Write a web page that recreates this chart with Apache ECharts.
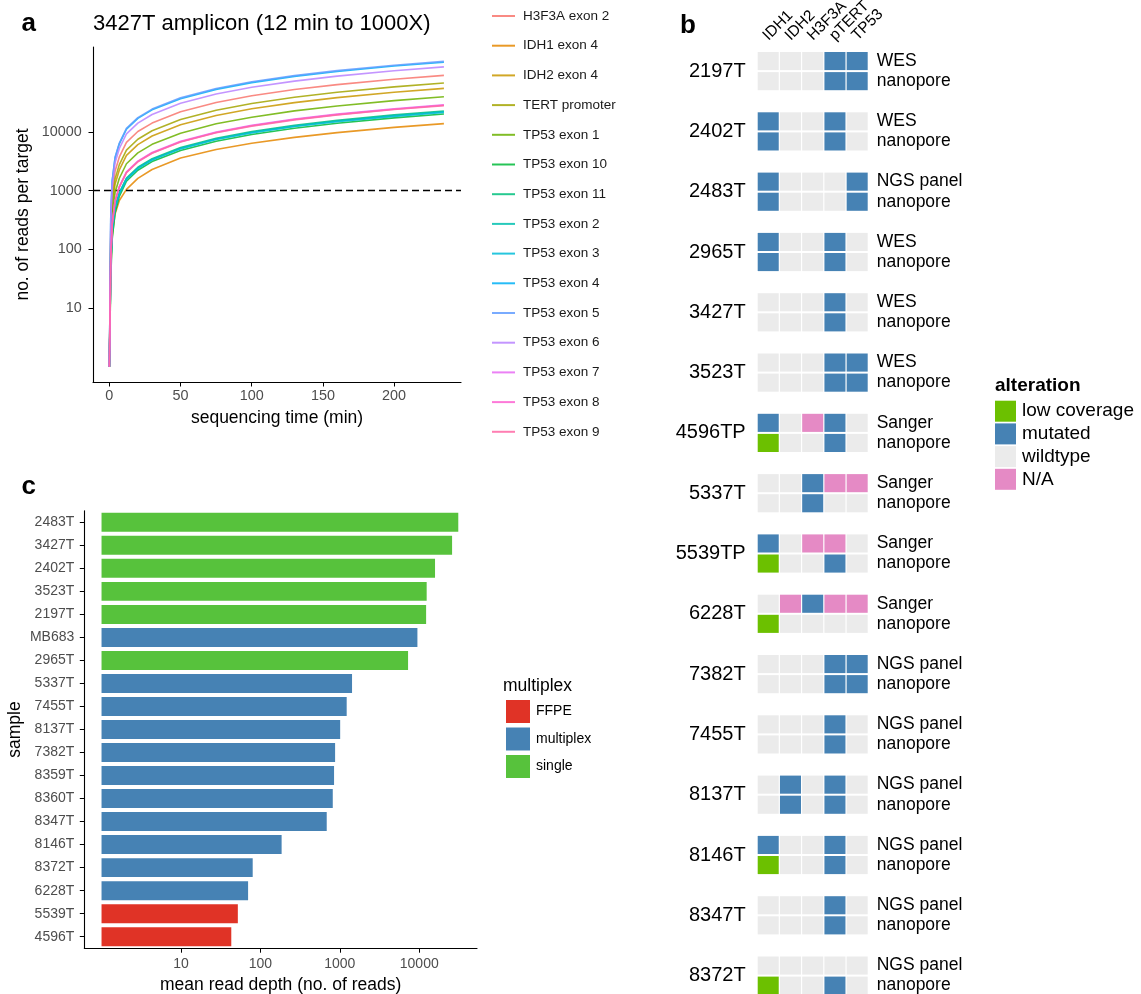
<!DOCTYPE html>
<html><head><meta charset="utf-8">
<script src="https://cdn.jsdelivr.net/npm/echarts@6/dist/echarts.min.js"></script>
<style>html,body{margin:0;padding:0;background:#fff}#chart{width:1141px;height:994px}</style>
</head><body><div id="chart"></div>
<script>
const FONT = "'Liberation Sans', Arial, Helvetica, sans-serif";

// ---------- Panel a data ----------
const timeMin = [0, 1, 2, 4, 7, 12, 20, 30, 50, 75, 100, 130, 160, 200, 235];
const targetNames = ['H3F3A exon 2','IDH1 exon 4','IDH2 exon 4','TERT promoter','TP53 exon 1','TP53 exon 10','TP53 exon 11','TP53 exon 2','TP53 exon 3','TP53 exon 4','TP53 exon 5','TP53 exon 6','TP53 exon 7','TP53 exon 8','TP53 exon 9'];
const targetColors = ['#F8766D','#E58700','#C99800','#A3A500','#6BB100','#00BA38','#00BF7D','#00C0AF','#00BCD8','#00B0F6','#619CFF','#B983FF','#E76BF3','#FD61D1','#FF67A4'];
const readsH3F3Aexon2 = [1, 230, 870, 2150, 3760, 6660, 10200, 14200, 22100, 31800, 41400, 52900, 64300, 79400, 92500];
const readsIDH1exon4  = [1, 45, 170, 400, 680, 1050, 1620, 2300, 3600, 5050, 6450, 8100, 9750, 12000, 13900];
const readsIDH2exon4  = [1, 140, 520, 1290, 2260, 4000, 6100, 8550, 13300, 19100, 24900, 31700, 38600, 47600, 55500];
const readsTERTprom   = [1, 170, 640, 1590, 2780, 4920, 7520, 10500, 16300, 23500, 30600, 39100, 47500, 58700, 68400];
const readsTP53exon1  = [1, 100, 376, 930, 1630, 2880, 4400, 6160, 9560, 13800, 17900, 22900, 27800, 34300, 40000];
const readsTP53exon10 = [1, 35, 150, 420, 800, 1450, 2230, 3130, 4850, 6980, 9090, 11600, 14100, 17400, 20300];
const readsTP53exon11 = [1, 57, 214, 529, 928, 1640, 2510, 3510, 5450, 7840, 10200, 13000, 15800, 19600, 22800];
const readsTP53exon2  = [1, 55, 208, 513, 900, 1590, 2430, 3400, 5280, 7600, 9900, 12600, 15400, 19000, 22100];
const readsTP53exon3  = [1, 54, 203, 501, 879, 1560, 2380, 3330, 5160, 7430, 9680, 12400, 15000, 18500, 21600];
const readsTP53exon4  = [1, 390, 1460, 3600, 6300, 11200, 17050, 23900, 37000, 53300, 69400, 88700, 107700, 133000, 155000];
const readsTP53exon5  = [1, 400, 1500, 3700, 6500, 11500, 17600, 24600, 38200, 55000, 71700, 91500, 111200, 137300, 160000];
const readsTP53exon6  = [1, 320, 1210, 2990, 5250, 9290, 14200, 19900, 30800, 44400, 57800, 73800, 89700, 110700, 129000];
const readsTP53exon7  = [1, 73, 273, 673, 1180, 2090, 3190, 4470, 6930, 9980, 13000, 16600, 20200, 24900, 29000];
const readsTP53exon8  = [1, 71, 268, 661, 1160, 2050, 3140, 4390, 6810, 9800, 12800, 16300, 19800, 24500, 28500];
const readsTP53exon9  = [1, 70, 265, 654, 1150, 2030, 3100, 4340, 6740, 9700, 12600, 16100, 19600, 24200, 28200];
const readsByTarget = [readsH3F3Aexon2, readsIDH1exon4, readsIDH2exon4, readsTERTprom, readsTP53exon1, readsTP53exon10, readsTP53exon11, readsTP53exon2, readsTP53exon3, readsTP53exon4, readsTP53exon5, readsTP53exon6, readsTP53exon7, readsTP53exon8, readsTP53exon9];
const yTicksA = [10, 100, 1000, 10000];
const xTicksA = [0, 50, 100, 150, 200];
const thresholdReads = 1000;

// ---------- Panel b data ----------
const genes = ['IDH1', 'IDH2', 'H3F3A', 'pTERT', 'TP53'];
const samplesB = ['2197T','2402T','2483T','2965T','3427T','3523T','4596TP','5337T','5539TP','6228T','7382T','7455T','8137T','8146T','8347T','8372T'];
const validationMethod = ['WES','WES','NGS panel','WES','WES','WES','Sanger','Sanger','Sanger','Sanger','NGS panel','NGS panel','NGS panel','NGS panel','NGS panel','NGS panel'];
// codes per gene (IDH1, IDH2, H3F3A, pTERT, TP53): L low coverage, M mutated, W wildtype, N N/A
const callsValidation = ['WWWMM','MWWMW','MWWWM','MWWMW','WWWMW','WWWMM','MWNMW','WWMNN','MWNNW','WNMNN','WWWMM','WWWMW','WMWMW','MWWMW','WWWMW','WWWWW'];
const callsNanopore   = ['WWWMM','MWWMW','MWWWM','MWWMW','WWWMW','WWWMM','LWWMW','WWMWW','LWWMW','LWWWW','WWWMM','WWWMW','WMWMW','LWWMW','WWWMW','LWWMW'];
const alterationNames = ['low coverage', 'mutated', 'wildtype', 'N/A'];
const alterationCodes = ['L', 'M', 'W', 'N'];
const alterationColors = ['#6CC000', '#4682B4', '#EBEBEB', '#E58AC5'];

// ---------- Panel c data ----------
const samplesC = ['2483T','3427T','2402T','3523T','2197T','MB683','2965T','5337T','7455T','8137T','7382T','8359T','8360T','8347T','8146T','8372T','6228T','5539T','4596T'];
const meanDepth = [31000, 25900, 15800, 12400, 12200, 9480, 7230, 1425, 1220, 1010, 872, 846, 815, 684, 185, 80, 70, 52, 43];
const multiplexGroup = ['single','single','single','single','single','multiplex','single','multiplex','multiplex','multiplex','multiplex','multiplex','multiplex','multiplex','multiplex','multiplex','multiplex','FFPE','FFPE'];
const groupNames = ['FFPE', 'multiplex', 'single'];
const groupColors = ['#E03326', '#4682B4', '#57C23C'];
const xTicksC = [10, 100, 1000, 10000];

// ---------- build ----------
const lg = Math.log10;
const slotKeys = [];
samplesB.forEach((s, k) => {
  slotKeys.push(s + '|' + validationMethod[k]);
  slotKeys.push(s + '|nanopore');
  if (k < samplesB.length - 1) slotKeys.push(s + '|');
});

const axisLineStyle = { show: true, onZero: false, lineStyle: { color: '#000', width: 1.1 } };
const tickLbl = { color: '#4D4D4D', fontSize: 14.4, fontFamily: FONT };
const nameStyle = { color: '#000', fontSize: 17.5, fontFamily: FONT };

const lineSeries = targetNames.map((name, i) => ({
  name, type: 'line', xAxisIndex: 0, yAxisIndex: 0,
  data: timeMin.map((t, j) => [t, lg(readsByTarget[i][j])]),
  symbol: 'none', showSymbol: false, smooth: false,
  lineStyle: { width: 1.6, color: targetColors[i], opacity: 0.85 },
  itemStyle: { color: targetColors[i] },
  z: 2 + i,
  markLine: i === targetNames.length - 1 ? {
    silent: true, symbol: ['none', 'none'], label: { show: false },
    lineStyle: { color: '#000', type: [7, 4], width: 1.3, opacity: 1 },
    data: [{ yAxis: lg(thresholdReads) }]
  } : undefined
}));

function renderCell(params, api) {
  const c = api.coord([api.value(0), api.value(1)]);
  const s = api.size([1, 1]);
  const w = s[0] - 1.2, h = s[1] - 2;
  return { type: 'rect', shape: { x: c[0] - w / 2, y: c[1] - h / 2, width: w, height: h }, style: { fill: api.visual('color') } };
}
const cellSeries = alterationNames.map((name, a) => {
  const data = [];
  samplesB.forEach((s, k) => {
    for (let g = 0; g < genes.length; g++) {
      if (callsValidation[k][g] === alterationCodes[a]) data.push([g, 3 * k]);
      if (callsNanopore[k][g] === alterationCodes[a]) data.push([g, 3 * k + 1]);
    }
  });
  return { name, type: 'custom', xAxisIndex: 2, yAxisIndex: 2, renderItem: renderCell,
    encode: { x: 0, y: 1 }, itemStyle: { color: alterationColors[a] }, data, silent: true };
});

const barSeries = groupNames.map((g, gi) => ({
  name: g, type: 'bar', xAxisIndex: 1, yAxisIndex: 1,
  data: samplesC.map((s, i) => multiplexGroup[i] === g ? lg(meanDepth[i]) : '-'),
  barWidth: '82.5%', barGap: '-100%',
  itemStyle: { color: groupColors[gi] }, silent: true
}));

const option = {
  animation: false,
  backgroundColor: '#fff',
  textStyle: { fontFamily: FONT },
  title: [
    { text: 'a', left: 21.5, top: 10.9, padding: 0, textStyle: { fontSize: 26, fontWeight: 'bold', color: '#000', fontFamily: FONT } },
    { text: 'b', left: 680, top: 12.5, padding: 0, textStyle: { fontSize: 26, fontWeight: 'bold', color: '#000', fontFamily: FONT } },
    { text: 'c', left: 21.5, top: 474.2, padding: 0, textStyle: { fontSize: 26, fontWeight: 'bold', color: '#000', fontFamily: FONT } },
    { text: '3427T amplicon (12 min to 1000X)', left: 93, top: 13.2, padding: 0, textStyle: { fontSize: 22, fontWeight: 'normal', color: '#000', fontFamily: FONT } },
    { text: 'alteration', left: 995, top: 376.5, padding: 0, textStyle: { fontSize: 19, fontWeight: 'bold', color: '#000', fontFamily: FONT } },
    { text: 'multiplex', left: 503, top: 677, padding: 0, textStyle: { fontSize: 17.5, fontWeight: 'normal', color: '#000', fontFamily: FONT } }
  ],
  legend: [
    { data: targetNames, orient: 'vertical', left: 491, top: 9, padding: 0, itemWidth: 23, itemHeight: 14, itemGap: 15.7,
      lineStyle: { width: 2 }, itemStyle: { opacity: 0 }, selectedMode: false,
      textStyle: { fontSize: 13.5, color: '#1A1A1A', fontFamily: FONT, padding: [0, 0, 0, 3] } },
    { data: alterationNames, orient: 'vertical', left: 995, top: 400.7, padding: 0, itemWidth: 21, itemHeight: 21, itemGap: 1.7,
      icon: 'rect', selectedMode: false,
      textStyle: { fontSize: 19, color: '#000', fontFamily: FONT, padding: [0, 0, 0, 1] } },
    { data: groupNames, orient: 'vertical', left: 506, top: 700, padding: 0, itemWidth: 24, itemHeight: 23, itemGap: 4.5,
      icon: 'rect', selectedMode: false,
      textStyle: { fontSize: 14, color: '#000', fontFamily: FONT, padding: [0, 0, 0, 1] } }
  ],
  grid: [
    { left: 93, top: 47, width: 368, height: 335, outerBoundsMode: 'none' },
    { left: 84.3, top: 510.8, width: 392.7, height: 437.4, outerBoundsMode: 'none' },
    { left: 757.1, top: 51, width: 111.2, height: 944.7, outerBoundsMode: 'none' },
    { left: 757.1, top: 40.95, width: 111.2, height: 964.8, outerBoundsMode: 'none' }
  ],
  xAxis: [
    { type: 'value', gridIndex: 0, min: -11.5, max: 247, axisLine: axisLineStyle, splitLine: { show: false },
      axisTick: { show: true, length: 4.5, lineStyle: { color: '#000', width: 1 }, customValues: xTicksA },
      axisLabel: { ...tickLbl, margin: 7, customValues: xTicksA },
      name: 'sequencing time (min)', nameLocation: 'middle', nameGap: 27.5, nameTextStyle: nameStyle },
    { type: 'value', gridIndex: 1, min: -0.217, max: 4.727, axisLine: axisLineStyle, splitLine: { show: false },
      axisTick: { show: true, length: 4.5, lineStyle: { color: '#000', width: 1 }, customValues: xTicksC.map(lg) },
      axisLabel: { ...tickLbl, fontSize: 14, margin: 9, customValues: xTicksC.map(lg), formatter: v => String(Math.round(Math.pow(10, v))) },
      name: 'mean read depth (no. of reads)', nameLocation: 'middle', nameGap: 28, nameTextStyle: nameStyle },
    { type: 'category', gridIndex: 2, position: 'top', data: genes, axisLine: { show: false }, axisTick: { show: false }, splitLine: { show: false },
      axisLabel: { interval: 0, rotate: -45, verticalAlign: 'bottom', margin: 4.5, padding: [0, 0, 0, 4], fontSize: 15.5, color: '#000', fontFamily: FONT } },
    { type: 'value', gridIndex: 3, show: false }
  ],
  yAxis: [
    { type: 'value', gridIndex: 0, min: -0.261, max: 5.449, axisLine: axisLineStyle, splitLine: { show: false },
      axisTick: { show: true, length: 4.5, lineStyle: { color: '#000', width: 1 }, customValues: yTicksA.map(lg) },
      axisLabel: { ...tickLbl, margin: 11.3, customValues: yTicksA.map(lg), formatter: v => String(Math.round(Math.pow(10, v))) },
      name: 'no. of reads per target', nameLocation: 'middle', nameGap: 61, nameTextStyle: nameStyle },
    { type: 'category', gridIndex: 1, data: samplesC, inverse: true, axisLine: axisLineStyle, splitLine: { show: false },
      axisTick: { show: true, length: 4.5, alignWithLabel: true, lineStyle: { color: '#000', width: 1 } },
      axisLabel: { interval: 0, margin: 10, fontSize: 14, color: '#4D4D4D', fontFamily: FONT },
      name: 'sample', nameLocation: 'middle', nameGap: 60.5, nameTextStyle: nameStyle },
    { type: 'category', gridIndex: 2, position: 'right', data: slotKeys, inverse: true, axisLine: { show: false }, axisTick: { show: false }, splitLine: { show: false },
      axisLabel: { interval: 0, margin: 8.4, fontSize: 17.5, color: '#000', fontFamily: FONT, formatter: v => v.split('|')[1] } },
    { type: 'category', gridIndex: 3, position: 'left', data: samplesB, inverse: true, axisLine: { show: false }, axisTick: { show: false }, splitLine: { show: false },
      axisLabel: { interval: 0, margin: 11.4, fontSize: 20, color: '#000', fontFamily: FONT } }
  ],
  series: [...lineSeries, ...cellSeries, ...barSeries]
};

const chart = echarts.init(document.getElementById('chart'), null, { renderer: 'canvas' });
chart.setOption(option);
</script>
</body></html>
